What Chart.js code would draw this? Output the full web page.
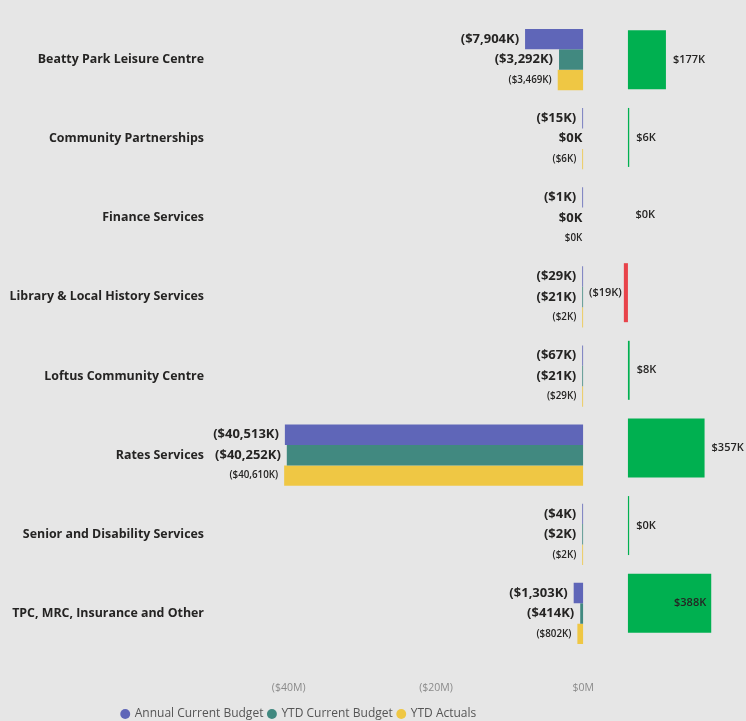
<!DOCTYPE html>
<html>
<head>
<meta charset="utf-8">
<script src="https://cdn.jsdelivr.net/npm/chart.js@4/dist/chart.umd.min.js"></script>
<style>
  html, body { margin:0; padding:0; background:#e6e6e6; }
  #wrap { position:relative; width:746px; height:721px; background:#e6e6e6; overflow:hidden; }
  #main { position:absolute; left:0; top:0; }
  #vari { position:absolute; left:585px; top:0; }
</style>
</head>
<body>
<div id="wrap">
  <canvas id="main" width="623" height="721"></canvas>
  <canvas id="vari" width="161" height="721"></canvas>
</div>
<script>
// ---- data (values in $K) ----
const categories = [
  "Beatty Park Leisure Centre",
  "Community Partnerships",
  "Finance Services",
  "Library & Local History Services",
  "Loftus Community Centre",
  "Rates Services",
  "Senior and Disability Services",
  "TPC, MRC, Insurance and Other"
];
const annualCurrentBudget = [-7904, -15, -1, -29, -67, -40513, -4, -1303];
const ytdCurrentBudget    = [-3292, 0, 0, -21, -21, -40252, -2, -414];
const ytdActuals          = [-3469, -6, 0, -2, -29, -40610, -2, -802];
const variance            = [177, 6, 0, -19, 8, 357, 0.4, 388];
const seriesNames = ["Annual Current Budget", "YTD Current Budget", "YTD Actuals"];
const xTickValues = [-40000, -20000, 0];

const FONT = "'Open Sans', 'Segoe UI', sans-serif";
const colors = ['#5f66b8', '#418980', '#efc744'];

function fmtK(v) {
  const r = Math.round(Math.abs(v));
  const n = r.toLocaleString('en-US');
  return (v < 0 && r !== 0) ? '($' + n + 'K)' : '$' + n + 'K';
}
function fmtM(v) {
  const n = Math.round(Math.abs(v) / 1000);
  return v < 0 ? '($' + n + 'M)' : '$' + n + 'M';
}

const mainLabels = {
  id: 'mainLabels',
  afterDatasetsDraw(chart) {
    const ctx = chart.ctx;
    const fonts = ['700 13px ' + FONT, '700 13px ' + FONT, '600 9.8px ' + FONT];
    chart.data.datasets.forEach((ds, di) => {
      const meta = chart.getDatasetMeta(di);
      meta.data.forEach((bar, i) => {
        const v = ds.data[i];
        if (v === null || v === undefined) return;
        const p = bar.getProps(['x', 'y', 'base'], true);
        const left = Math.min(p.x, p.base);
        ctx.save();
        ctx.font = fonts[di];
        ctx.fillStyle = '#252423';
        ctx.textAlign = 'right';
        ctx.textBaseline = 'middle';
        const gap = v === 0 ? 0 : 6;
        ctx.fillText(fmtK(v), left - gap, p.y);
        ctx.restore();
      });
    });
  }
};

const varLabels = {
  id: 'varLabels',
  afterDatasetsDraw(chart) {
    const ctx = chart.ctx;
    const area = chart.chartArea;
    chart.data.datasets.forEach((ds, di) => {
      const meta = chart.getDatasetMeta(di);
      meta.data.forEach((bar, i) => {
        const v = ds.data[i];
        if (v === null || v === undefined) return;
        const p = bar.getProps(['x', 'y', 'base'], true);
        const txt = fmtK(v);
        ctx.save();
        ctx.font = '600 11px ' + FONT;
        ctx.fillStyle = '#252423';
        ctx.textBaseline = 'middle';
        const w = ctx.measureText(txt).width;
        if (v < 0) {
          ctx.textAlign = 'right';
          ctx.fillText(txt, Math.min(p.x, p.base) - 2, p.y);
        } else {
          const right = Math.max(p.x, p.base);
          if (right + 7 + w > area.right) {
            ctx.textAlign = 'right';
            ctx.fillText(txt, right - 5, p.y);
          } else {
            ctx.textAlign = 'left';
            ctx.fillText(txt, right + 7, p.y);
          }
        }
        ctx.restore();
      });
    });
  }
};

new Chart(document.getElementById('main'), {
  type: 'bar',
  data: {
    labels: categories,
    datasets: [
      { label: seriesNames[0], data: annualCurrentBudget },
      { label: seriesNames[1], data: ytdCurrentBudget },
      { label: seriesNames[2], data: ytdActuals }
    ].map((d, k) => Object.assign(d, {
      backgroundColor: (c) => (c.raw === 0 ? 'rgba(0,0,0,0)' : colors[k]),
      borderWidth: 0,
      categoryPercentage: 0.775,
      barPercentage: 1,
      minBarLength: 1
    }))
  },
  options: {
    indexAxis: 'y',
    responsive: false,
    animation: false,
    devicePixelRatio: 1,
    layout: { padding: { top: 20, right: 25, left: 0, bottom: -9 } },
    scales: {
      x: {
        min: -50000,
        max: 0,
        afterBuildTicks: (s) => { s.ticks = xTickValues.map(v => ({ value: v })); },
        afterFit: (s) => { s.height = 50; },
        ticks: {
          callback: (v) => fmtM(v),
          color: '#8a8a8a',
          font: { family: FONT, size: 10.5 },
          padding: 29,
          maxRotation: 0
        },
        grid: { display: false, drawTicks: false },
        border: { display: false }
      },
      y: {
        afterFit: (s) => { s.width = 215; },
        ticks: {
          color: '#252423',
          font: { family: FONT, size: 12.4, weight: '700' },
          padding: 11
        },
        grid: { display: false, drawTicks: false },
        border: { display: false }
      }
    },
    plugins: {
      legend: {
        position: 'bottom',
        labels: {
          usePointStyle: true,
          pointStyle: 'circle',
          boxWidth: 7,
          boxHeight: 7,
          padding: 5,
          color: '#555555',
          font: { family: FONT, size: 12 }
        }
      },
      tooltip: { enabled: false }
    }
  },
  plugins: [mainLabels]
});

new Chart(document.getElementById('vari'), {
  type: 'bar',
  data: {
    labels: categories,
    datasets: [{
      label: 'Variance',
      data: variance,
      backgroundColor: (c) => (c.raw === 0 ? 'rgba(0,0,0,0)' : (c.raw < 0 ? '#e8434a' : '#00b050')),
      borderWidth: 0,
      categoryPercentage: 0.76,
      barPercentage: 1,
      minBarLength: 1.2
    }]
  },
  options: {
    indexAxis: 'y',
    responsive: false,
    animation: false,
    devicePixelRatio: 1,
    layout: { padding: { top: 21, bottom: 79, left: 0, right: 0 } },
    scales: {
      x: { min: -200, max: 550, display: false },
      y: { display: false }
    },
    plugins: { legend: { display: false }, tooltip: { enabled: false } }
  },
  plugins: [varLabels]
});
</script>
</body>
</html>
